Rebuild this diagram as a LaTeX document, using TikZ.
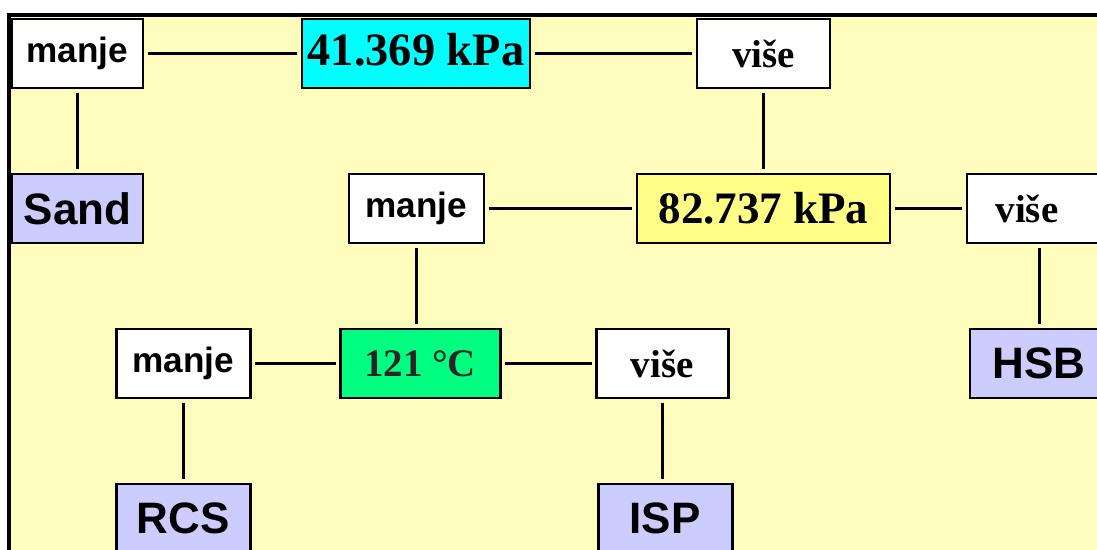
\documentclass[tikz,border=0pt]{standalone}
\usepackage{fontspec}
\setmainfont{Liberation Serif}
\setsansfont{Liberation Sans}
\usepackage{xcolor}
\usetikzlibrary{positioning}

\definecolor{paper}{RGB}{255,252,190}
\definecolor{lowp}{RGB}{0,255,255}
\definecolor{highp}{RGB}{255,255,136}
\definecolor{temp}{RGB}{0,255,128}
\definecolor{media}{RGB}{204,204,255}

\begin{document}
\begin{tikzpicture}[
      box/.style={draw, line width=0.7mm, inner sep=0pt, minimum height=17.25mm},
      lessbox/.style={box, fill=white, font=\sffamily\bfseries\fontsize{25}{30}\selectfont},
      morebox/.style={box, fill=white, font=\rmfamily\bfseries\fontsize{27.7}{33}\selectfont},
      test/.style={box, font=\rmfamily\bfseries\fontsize{32}{38}\selectfont},
      tempbox/.style={box, fill=temp, text=black!85, font=\rmfamily\bfseries\fontsize{27.7}{33}\selectfont},
      result/.style={box, fill=media, font=\sffamily\bfseries\fontsize{31.3}{37}\selectfont},
      link/.style={line width=0.75mm, shorten <=0.8mm, shorten >=0.8mm},
    ]

    \clip (0,0) rectangle (274.25mm,-137.25mm);

    % background and frame
    \fill[paper] (2.25mm,-3.75mm) rectangle (280mm,-140mm);
    \draw[line width=0.8mm] (2.25mm,-140mm) -- (2.25mm,-3.75mm) -- (280mm,-3.75mm);

    % first test: 41.369 kPa
    \node[lessbox, minimum width=32.75mm] (lo1) at (19.375mm,-13.375mm) {manje};
    \node[test, fill=lowp, minimum width=57mm, right=39.05mm of lo1,
          font=\rmfamily\bfseries\fontsize{33}{38}\selectfont] (p41) {\raisebox{6pt}{41.369 kPa}};
    \node[morebox, minimum width=33.25mm, right=41.05mm of p41] (hi1) {više};
    \node[result, minimum width=32.75mm, below=20.8mm of lo1] (sand) {Sand};

    % second test: 82.737 kPa
    \node[test, fill=highp, minimum width=63.25mm, below=20.8mm of hi1] (p82) {82.737 kPa};
    \node[lessbox, minimum width=33.75mm, left=37.55mm of p82] (lo2) {manje};
    \node[morebox, minimum width=36mm, right=18.55mm of p82] (hi2) {više\hspace*{6mm}};
    \node[result, minimum width=34.5mm, below=20.8mm of hi2] (hsb) {HSB};

    % third test: 121 °C
    \node[tempbox, minimum width=40mm, below=20.8mm of lo2, xshift=0.9mm] (t121) {121 °C};
    \node[lessbox, minimum width=33.5mm, left=21.8mm of t121] (lo3) {manje};
    \node[morebox, minimum width=33mm, right=23.3mm of t121] (hi3) {više};
    \node[result, minimum width=33.5mm, below=20.8mm of lo3] (rcs) {RCS};
    \node[result, minimum width=33.5mm, below=20.8mm of hi3, xshift=0.75mm] (isp) {ISP};

    % connectors
    \draw[link] (lo1) -- (p41);
    \draw[link] (p41) -- (hi1);
    \draw[link] (lo1) -- (sand);
    \draw[link] (hi1) -- (p82);
    \draw[link] (lo2) -- (p82);
    \draw[link] (p82) -- (hi2);
    \draw[link] (hi2) -- (hsb);
    \draw[link] (lo2.south) -- (lo2.south |- t121.north);
    \draw[link] (lo3) -- (t121);
    \draw[link] (t121) -- (hi3);
    \draw[link] (lo3) -- (rcs);
    \draw[link] (hi3.south) -- (hi3.south |- isp.north);

  \end{tikzpicture}
\end{document}
